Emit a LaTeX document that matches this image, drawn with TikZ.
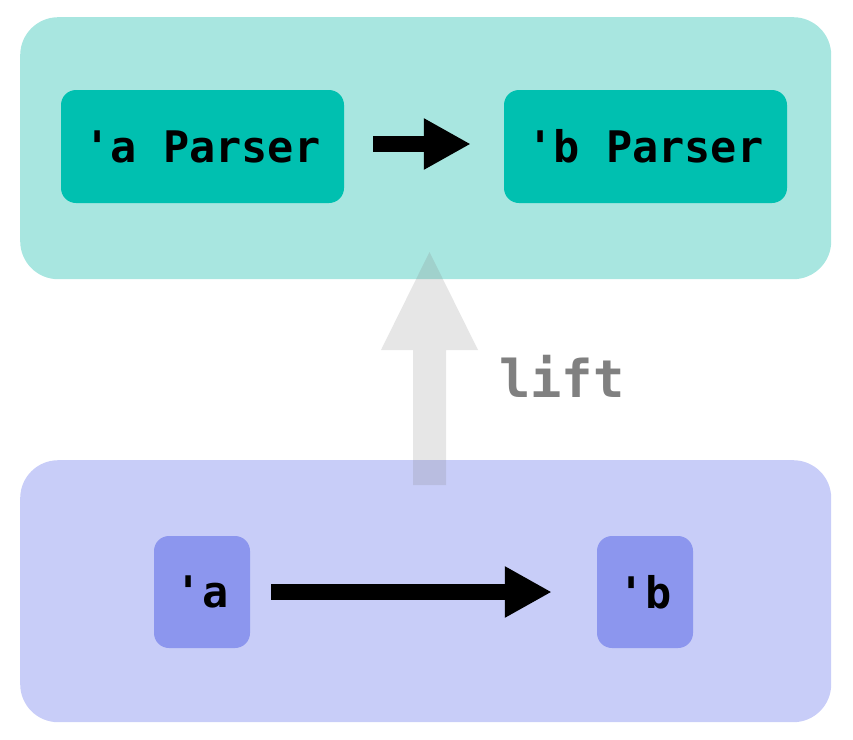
\documentclass[tikz,border=0pt]{standalone}
\usepackage{fontspec}
\newfontfamily\codefont{DejaVu Sans Mono}
\usetikzlibrary{arrows.meta}

\definecolor{tealpanel}{HTML}{A8E6E0}
\definecolor{tealbox}{HTML}{00C0B0}
\definecolor{lavpanel}{HTML}{C8CDF8}
\definecolor{lavbox}{HTML}{8C96EE}
\definecolor{liftgray}{HTML}{808080}

\tikzset{
  panel/.style={rounded corners=38pt, inner sep=0pt, anchor=north west,
    minimum width=811pt, minimum height=262pt},
  codebox/.style={rounded corners=15pt, inner sep=0pt, text=black,
    font=\codefont\bfseries\fontsize{43.5}{50}\selectfont},
  parserbox/.style={codebox, fill=tealbox, minimum width=283pt, minimum height=113pt},
  typebox/.style={codebox, fill=lavbox, minimum width=96pt, minimum height=112pt},
  fatarrow/.style={line width=16pt, -{Triangle[length=47pt,width=48pt]}},
  liftarrow/.style={fill=gray, fill opacity=0.2},
  liftlabel/.style={text=liftgray, inner sep=0pt,
    font=\codefont\bfseries\fontsize{52}{58}\selectfont}
}

\begin{document}
\begin{tikzpicture}[x=1pt,y=-1pt]
  \useasboundingbox (0,0) rectangle (853,739);

  % the two levels
  \node[panel, fill=tealpanel] (parsers) at (20,17) {};
  \node[panel, fill=lavpanel] (types) at (20,460) {};

  % parser level
  \node[parserbox] (pa) at (202.5,146.5) {\raisebox{-2pt}{'a Parser}};
  \node[parserbox] (pb) at (645.5,146.5) {\raisebox{-2pt}{'b Parser}};
  \draw[fatarrow, shorten <=29pt, shorten >=33pt]
    ([yshift=2.5pt]pa.east) -- ([yshift=2.5pt]pb.west);

  % type level
  \node[typebox] (ta) at (202,592) {'a};
  \node[typebox] (tb) at (645,592) {'b};
  \draw[fatarrow, shorten <=21pt, shorten >=45pt] (ta) -- (tb);

  % lifting arrow between the levels
  \coordinate (liftfoot) at (429.5,485);
  \coordinate (lifttip) at (429.5,252);
  \fill[liftarrow] (liftfoot) ++(-16.5,0) -- ++(0,-135) -- ++(-32,0)
    -- (lifttip) -- ++(48.5,98) -- ++(-32,0) -- ++(0,135) -- cycle;
  \node[liftlabel, anchor=base west] (lift) at (499,397) {lift};
\end{tikzpicture}
\end{document}
